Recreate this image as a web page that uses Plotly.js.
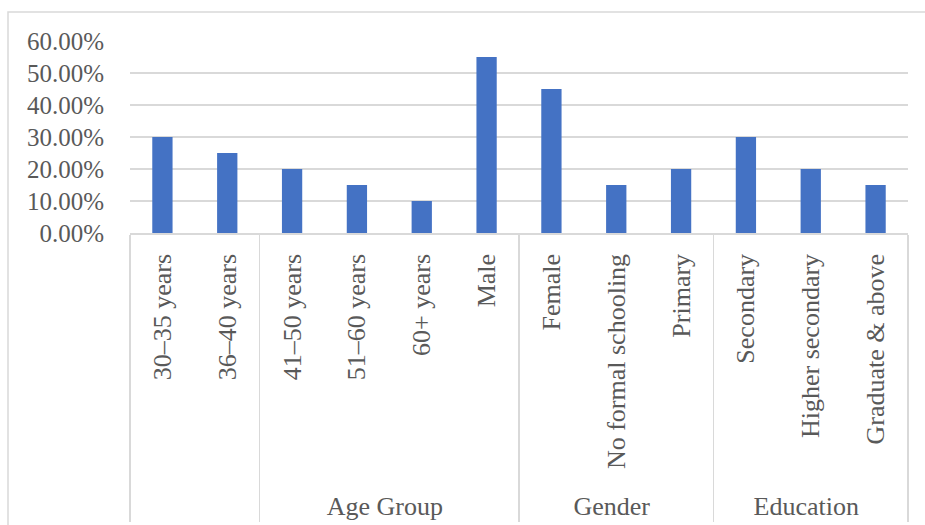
<!DOCTYPE html>
<html>
<head>
<meta charset="utf-8">
<script src="https://cdn.plot.ly/plotly-3.0.1.min.js"></script>
<style>html,body{margin:0;padding:0;background:#fff;}#chart{width:925px;height:525px;}</style>
</head>
<body>
<div id="chart"></div>
<script>
var groups = [" ", " ", "Age Group", "Age Group", "Age Group", "Age Group", "Gender", "Gender", "Gender", "Education", "Education", "Education"];
var categories = ["30–35 years", "36–40 years", "41–50 years", "51–60 years", "60+ years", "Male", "Female", "\u00a0No formal schooling", "Primary", "Secondary", "Higher secondary", "Graduate & above"];
var values = [0.30, 0.25, 0.20, 0.15, 0.10, 0.55, 0.45, 0.15, 0.20, 0.30, 0.20, 0.15];
var yTicks = [0, 0.1, 0.2, 0.3, 0.4, 0.5, 0.6];

var fontFam = "Liberation Serif, Times New Roman, serif";
var grey = "#d9d9d9";
var textCol = "#595959";

var data = [{
  type: "bar",
  x: [groups, categories],
  y: values,
  marker: {color: "#4472c4"},
  hoverinfo: "y"
}];

var layout = {
  width: 925,
  height: 525,
  margin: {l: 130, r: 17, t: 41, b: 292, pad: 0},
  paper_bgcolor: "#fff",
  plot_bgcolor: "#fff",
  showlegend: false,
  bargap: 0.687,
  font: {family: fontFam, size: 25, color: textCol},
  xaxis: {
    type: "multicategory",
    tickangle: -90,
    tickfont: {family: fontFam, size: 26, color: textCol},
    showline: true,
    linecolor: grey,
    linewidth: 1.5,
    showgrid: false,
    ticks: "",
    showdividers: true,
    dividercolor: grey,
    dividerwidth: 1.5,
    ticklabelstandoff: 9,
    fixedrange: true
  },
  yaxis: {
    range: [0, 0.6],
    tickvals: yTicks,
    tickformat: ".2%",
    showgrid: true,
    gridcolor: grey,
    gridwidth: 1.5,
    zeroline: false,
    showline: false,
    ticks: "",
    ticklabelstandoff: 25,
    tickfont: {family: fontFam, size: 25, color: textCol},
    fixedrange: true
  },
  shapes: [{
    type: "rect",
    xref: "paper", yref: "paper",
    x0: (8 - 130) / 778, x1: 1.1,
    y0: -1.7, y1: 1 + 29 / 192,
    line: {color: grey, width: 1.5},
    fillcolor: "rgba(0,0,0,0)",
    layer: "below"
  }]
};

Plotly.newPlot("chart", data, layout, {displayModeBar: false, staticPlot: true});
</script>
</body>
</html>
